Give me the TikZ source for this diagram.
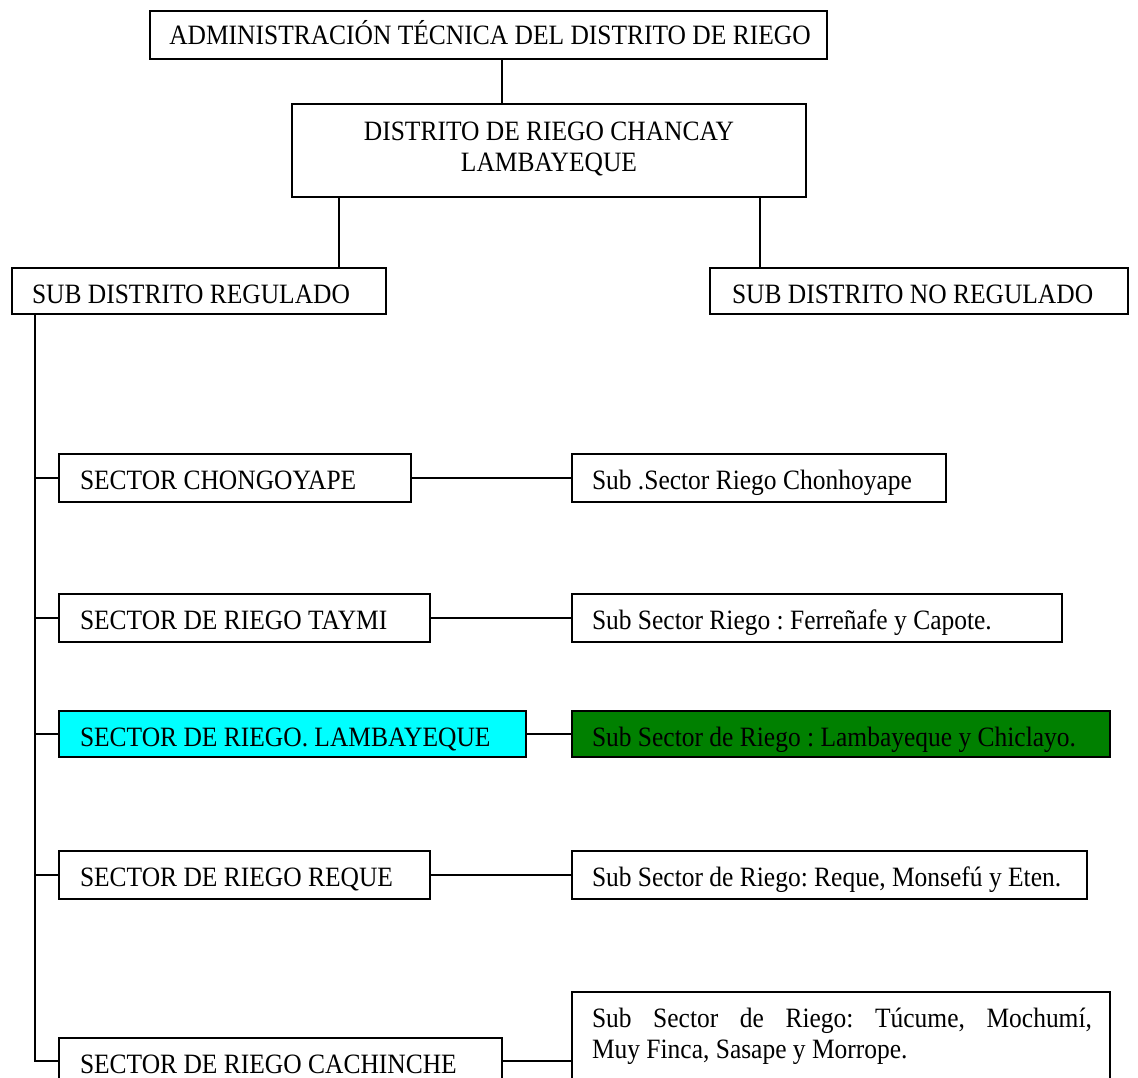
\documentclass[tikz,border=0pt]{standalone}
\usepackage{fontspec}
\setmainfont{Liberation Serif}[FakeStretch=0.91]
\frenchspacing
\definecolor{boxcyan}{RGB}{0,255,255}
\definecolor{boxgreen}{RGB}{0,128,0}
\begin{document}
\begin{tikzpicture}[x=1pt,y=-1pt,
  box/.style={draw=black, line width=1.7pt, inner sep=0pt, outer sep=0pt, anchor=north west},
  txt/.style={font=\fontsize{28}{31}\selectfont, inner sep=0pt, outer sep=0pt, text=black},
  link/.style={line width=1.7pt, draw=black}]
\useasboundingbox (0,0) rectangle (1138,1078);
\clip (0,0) rectangle (1138,1078);

% boxes
\node[box, minimum width=677pt, minimum height=48pt] (A) at (150,11) {};
\node[box, minimum width=514pt, minimum height=93pt] (D) at (292,104) {};
\node[box, minimum width=374pt, minimum height=46pt] (SR) at (12,268) {};
\node[box, minimum width=418pt, minimum height=46pt] (SN) at (710,268) {};
\node[box, minimum width=352pt, minimum height=48pt] (C1) at (59,454) {};
\node[box, minimum width=374pt, minimum height=48pt] (S1) at (572,454) {};
\node[box, minimum width=371pt, minimum height=48pt] (C2) at (59,594) {};
\node[box, minimum width=490pt, minimum height=48pt] (S2) at (572,594) {};
\node[box, fill=boxcyan, minimum width=467pt, minimum height=46pt] (C3) at (59,711) {};
\node[box, fill=boxgreen, minimum width=538pt, minimum height=46pt] (S3) at (572,711) {};
\node[box, minimum width=371pt, minimum height=48pt] (C4) at (59,851) {};
\node[box, minimum width=515pt, minimum height=48pt] (S4) at (572,851) {};
\node[box, minimum width=443pt, minimum height=46pt] (C5) at (59,1038) {};
\node[box, minimum width=538pt, minimum height=120pt] (S5) at (572,992) {};

% texts
\node[txt, anchor=base] (tA) at (490,45) {ADMINISTRACIÓN TÉCNICA DEL DISTRITO DE RIEGO};
\node[txt, anchor=north, align=center] (tD) at (549,121.5) {DISTRITO DE RIEGO CHANCAY\\LAMBAYEQUE};
\node[txt, anchor=base west] (tSR) at (32,303) {SUB DISTRITO REGULADO};
\node[txt, anchor=base west] (tSN) at (732,303) {SUB DISTRITO NO REGULADO};
\node[txt, anchor=base west] (t1) at (80,489) {SECTOR CHONGOYAPE};
\node[txt, anchor=base west] (t1s) at (592,489) {Sub .Sector Riego Chonhoyape};
\node[txt, anchor=base west] (t2) at (80,629) {SECTOR DE RIEGO TAYMI};
\node[txt, anchor=base west] (t2s) at (592,629) {Sub Sector Riego : Ferreñafe y Capote.};
\node[txt, anchor=base west] (t3) at (80,746) {SECTOR DE RIEGO. LAMBAYEQUE};
\node[txt, anchor=base west] (t3s) at (592,746) {Sub Sector de Riego : Lambayeque y Chiclayo.};
\node[txt, anchor=base west] (t4) at (80,886) {SECTOR DE RIEGO REQUE};
\node[txt, anchor=base west] (t4s) at (592,886) {Sub Sector de Riego: Reque, Monsefú y Eten.};
\node[txt, anchor=base west] (t5) at (80,1073) {SECTOR DE RIEGO CACHINCHE};
\node[txt, anchor=north west, text width=500pt, align=justify] (t5s) at (592,1008.5)
  {Sub Sector de Riego: Túcume, Mochumí,\linebreak Muy Finca, Sasape y Morrope.};

% connectors
\draw[link] ([xshift=13.5pt]A.south) -- ([xshift=13.5pt]A.south |- D.north);
\draw[link] ([xshift=47pt]D.south west) -- ([xshift=47pt]D.south west |- SR.north);
\draw[link] ([xshift=-46pt]D.south east) -- ([xshift=-46pt]D.south east |- SN.north);
\coordinate (spine) at ([xshift=23pt]SR.south west);
\draw[link] (spine) |- (C5.west);
\draw[link] (C1.west) -- (spine |- C1.west);
\draw[link] (C2.west) -- (spine |- C2.west);
\draw[link] (C3.west) -- (spine |- C3.west);
\draw[link] (C4.west) -- (spine |- C4.west);
\draw[link] (C1.east) -- (S1.west);
\draw[link] (C2.east) -- (S2.west);
\draw[link] (C3.east) -- (S3.west);
\draw[link] (C4.east) -- (S4.west);
\draw[link] (C5.east) -- (C5.east -| S5.west);
\end{tikzpicture}
\end{document}
